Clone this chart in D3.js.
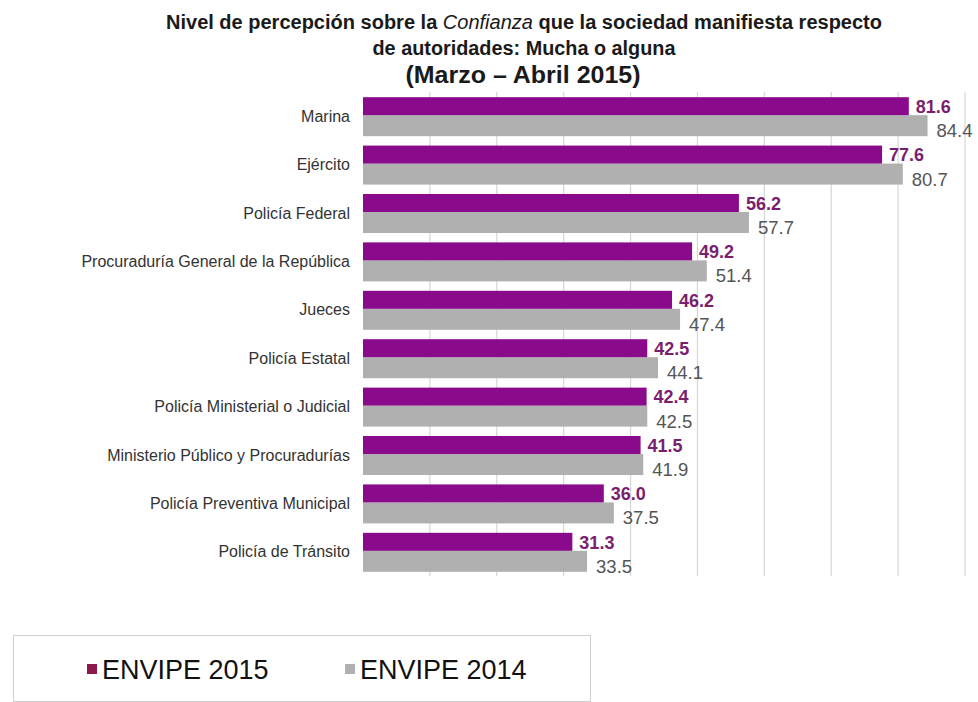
<!DOCTYPE html>
<html lang="es">
<head>
<meta charset="utf-8">
<title>Confianza en autoridades</title>
<script src="https://cdn.jsdelivr.net/npm/d3@7"></script>
<style>
  body { margin: 0; background: #fff; }
  svg { display: block; font-family: "Liberation Sans", Arial, sans-serif; }
</style>
</head>
<body>
<script>
// data
var categories = ["Marina", "Ejército", "Policía Federal", "Procuraduría General de la República",
  "Jueces", "Policía Estatal", "Policía Ministerial o Judicial", "Ministerio Público y Procuradurías",
  "Policía Preventiva Municipal", "Policía de Tránsito"];
var envipe2015 = [81.6, 77.6, 56.2, 49.2, 46.2, 42.5, 42.4, 41.5, 36.0, 31.3];
var envipe2014 = [84.4, 80.7, 57.7, 51.4, 47.4, 44.1, 42.5, 41.9, 37.5, 33.5];
var gridTicks = [10, 20, 30, 40, 50, 60, 70, 80, 90];
var seriesNames = ["ENVIPE 2015", "ENVIPE 2014"];

var width = 978, height = 702;
var purple = "#8a0a8c", grey = "#b0b0b0";

var svg = d3.select("body").append("svg")
  .attr("width", width)
  .attr("height", height);

// title
var t1 = svg.append("text")
  .attr("x", 524).attr("y", 29)
  .attr("text-anchor", "middle")
  .attr("font-weight", "bold")
  .attr("font-size", 20)
  .attr("fill", "#1a1a1a")
  .attr("textLength", 716)
  .attr("lengthAdjust", "spacingAndGlyphs");
t1.append("tspan").text("Nivel de percepción sobre la ");
t1.append("tspan").attr("font-style", "italic").attr("font-weight", "normal").text("Confianza");
t1.append("tspan").text(" que la sociedad manifiesta respecto");
svg.append("text")
  .attr("x", 524).attr("y", 55)
  .attr("text-anchor", "middle")
  .attr("font-weight", "bold")
  .attr("font-size", 20)
  .attr("fill", "#1a1a1a")
  .attr("textLength", 303)
  .attr("lengthAdjust", "spacingAndGlyphs")
  .text("de autoridades: Mucha o alguna");
svg.append("text")
  .attr("x", 523).attr("y", 83)
  .attr("text-anchor", "middle")
  .attr("font-weight", "bold")
  .attr("font-size", 23)
  .attr("fill", "#1a1a1a")
  .attr("textLength", 235)
  .attr("lengthAdjust", "spacingAndGlyphs")
  .text("(Marzo – Abril 2015)");

var x = d3.scaleLinear().domain([0, 90]).range([363, 965]);
var y = d3.scaleBand().domain(categories).range([92, 576]).paddingInner(0.215).paddingOuter(0.107);
var sub = d3.scaleBand().domain(seriesNames).range([0, y.bandwidth()]);

// grid
svg.append("g").selectAll("line")
  .data(gridTicks)
  .join("line")
  .attr("x1", d => x(d)).attr("x2", d => x(d))
  .attr("y1", 92).attr("y2", 576)
  .attr("stroke", "#d6d6d6")
  .attr("stroke-width", 1.2);

// category labels
svg.append("g").selectAll("text")
  .data(categories)
  .join("text")
  .attr("x", 350)
  .attr("y", d => y(d) + y.bandwidth() / 2)
  .attr("dy", "0.35em")
  .attr("text-anchor", "end")
  .attr("font-size", 16)
  .attr("fill", "#333")
  .text(d => d);

// bars 2014 (grey)
svg.append("g").selectAll("rect")
  .data(envipe2014)
  .join("rect")
  .attr("x", x(0))
  .attr("y", (d, i) => y(categories[i]) + sub(seriesNames[1]) - 1)
  .attr("width", d => x(d) - x(0))
  .attr("height", sub.bandwidth() + 2)
  .attr("fill", grey);

// bars 2015 (purple)
svg.append("g").selectAll("rect")
  .data(envipe2015)
  .join("rect")
  .attr("x", x(0))
  .attr("y", (d, i) => y(categories[i]) + sub(seriesNames[0]))
  .attr("width", d => x(d) - x(0))
  .attr("height", sub.bandwidth() - 1)
  .attr("fill", purple);

// value labels
svg.append("g").selectAll("text")
  .data(envipe2015)
  .join("text")
  .attr("x", d => x(d) + 7)
  .attr("y", (d, i) => y(categories[i]) + sub(seriesNames[0]) + sub.bandwidth() / 2)
  .attr("dy", "0.35em")
  .attr("font-size", 18)
  .attr("font-weight", "bold")
  .attr("fill", "#7a1f70")
  .text(d => d.toFixed(1));

svg.append("g").selectAll("text")
  .data(envipe2014)
  .join("text")
  .attr("x", d => x(d) + 9)
  .attr("y", (d, i) => y(categories[i]) + sub(seriesNames[1]) + sub.bandwidth() / 2 + 5)
  .attr("dy", "0.35em")
  .attr("font-size", 18.5)
  .attr("fill", "#555")
  .text(d => d.toFixed(1));

// legend
var lg = svg.append("g");
lg.append("rect")
  .attr("x", 13.5).attr("y", 635.5)
  .attr("width", 577).attr("height", 66)
  .attr("fill", "#fff")
  .attr("stroke", "#d0d0d0");
var legendItems = [{name: seriesNames[0], color: "#8b1a4a", x: 87}, {name: seriesNames[1], color: "#b0b0b0", x: 345}];
var li = lg.selectAll("g").data(legendItems).join("g")
  .attr("transform", d => "translate(" + d.x + ",0)");
li.append("rect")
  .attr("x", 0).attr("y", 664)
  .attr("width", 10).attr("height", 10)
  .attr("fill", d => d.color);
li.append("text")
  .attr("x", 15).attr("y", 679)
  .attr("font-size", 27)
  .attr("fill", "#111")
  .text(d => d.name);
</script>
</body>
</html>
